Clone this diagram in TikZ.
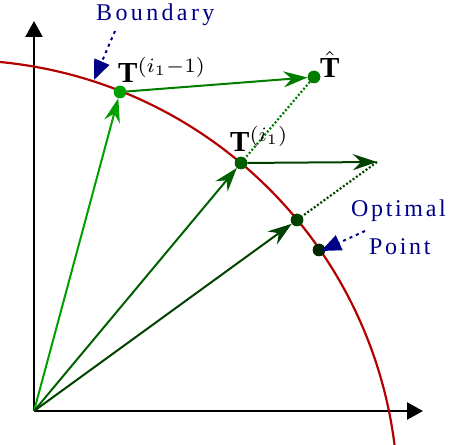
\documentclass[tikz,border=0pt]{standalone}
\usepackage{graphicx}
\usepackage{fontspec}
\setmainfont{Liberation Serif}
\usetikzlibrary{arrows.meta}
\definecolor{redline}{RGB}{180,0,0}
\definecolor{gA}{RGB}{0,160,0}
\definecolor{gB}{RGB}{0,125,0}
\definecolor{gC}{RGB}{0,95,0}
\definecolor{gD}{RGB}{0,65,0}
\definecolor{gE}{RGB}{0,40,0}
\definecolor{navy}{RGB}{0,0,135}
\tikzset{
  axis/.style={line width=2.4pt,-{Triangle[length=16pt,width=17pt]}},
  vec/.style={line width=2pt,-{Stealth[length=24pt,width=16pt,inset=8pt]}},
  dotline/.style={line width=2.2pt,dash pattern=on 2pt off 2pt},
  pt/.style={circle,inner sep=0pt,minimum size=12.5pt},
  lbl/.style={inner sep=0pt,anchor=base west},
  bluearrow/.style={navy,line width=2pt,dash pattern=on 3pt off 4pt,-{Triangle[length=20pt,width=16pt]}},
  bluetext/.style={inner sep=0pt,anchor=base west,text=navy}
}
\begin{document}
\begin{tikzpicture}[x=1pt,y=1pt]
\useasboundingbox (0,0) rectangle (449,444);
% axes
\coordinate (O) at (34,33);
\coordinate (ytip) at (34,423);
\coordinate (xtip) at (423,33);
\draw[axis] (O) -- (ytip);
\draw[axis] (O) -- (xtip);
% boundary arc
\begin{scope}
\clip (0,0) rectangle (449,444);
\draw[redline,line width=2.2pt] (-42,-56) ++(86:440) arc[start angle=86,end angle=4,radius=440];
\end{scope}
% points
\node[pt,fill=gA] (P1) at (120,352) {};
\node[pt,fill=gB] (H) at (314,367) {};
\node[pt,fill=gC] (P2) at (241,281) {};
\node[pt,fill=gD] (P3) at (297,224) {};
\node[pt,fill=gE] (Opt) at (319,194) {};
\coordinate (Q) at (377,282);
% vectors
\draw[vec,gA] (O) -- (P1);
\draw[vec,gC] (O) -- (P2);
\draw[vec,gD] (O) -- (P3);
\draw[vec,gB] (P1) -- (H);
\draw[vec,gD] (P2) -- (Q);
\draw[dotline,gB] (H) -- (P2);
\draw[dotline,gD] (Q) -- (P3);
% redraw dots on top
\node[pt,fill=gA] at (P1) {};
\node[pt,fill=gB] at (H) {};
\node[pt,fill=gC] at (P2) {};
\node[pt,fill=gD] at (P3) {};
\node[pt,fill=gE] at (Opt) {};
% labels
\node[lbl] (L1) at (118,361) {\scalebox{2.9}{\textbf{T}$^{(i_1-1)}$}};
\node[lbl] (LH) at (320,366) {\scalebox{2.9}{$\hat{\mbox{\textbf{T}}}$}};
\node[lbl] (L2) at (230,292) {\scalebox{2.9}{\textbf{T}$^{(i_1)}$}};
% blue annotations
\node[bluetext] (B) at (96,423.3) {\fontsize{24}{28}\selectfont\addfontfeature{LetterSpace=14}Boundary};
\node[bluetext] (OpT) at (351,227.3) {\fontsize{24}{28}\selectfont\addfontfeature{LetterSpace=11}Optimal};
\node[bluetext] (PoT) at (369,189) {\fontsize{24}{28}\selectfont\addfontfeature{LetterSpace=11}Point};
\coordinate (bs) at (115,413);
\coordinate (be) at (94,364);
\coordinate (os) at (365,213);
\coordinate (oe) at (321,193);
\draw[bluearrow] (bs) -- (be);
\draw[bluearrow] (os) -- (oe);
\end{tikzpicture}
\end{document}
